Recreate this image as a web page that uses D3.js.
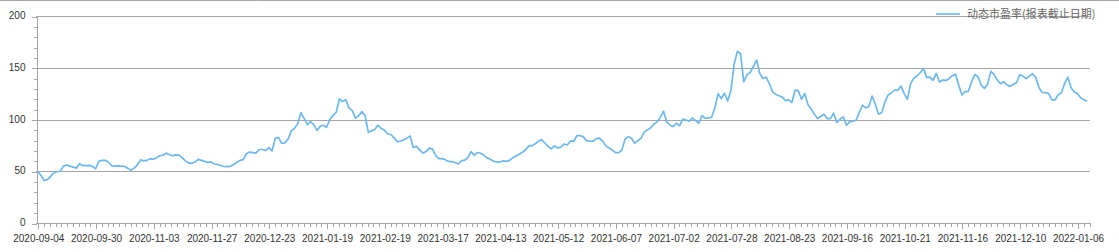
<!DOCTYPE html>
<html>
<head>
<meta charset="utf-8">
<script src="https://cdn.jsdelivr.net/npm/d3@7"></script>
<style>
  body { margin: 0; background: #fff; }
  svg { display: block; font-family: "Liberation Sans", Arial, sans-serif; }
</style>
</head>
<body>
<svg id="chart" width="1119" height="252"></svg>
<script>
// series name shown in the legend
const seriesName = '动态市盈率(报表截止日期)';

// one value per trading day, 2020-09-04 .. 2022-01-11
const peValues = [
  50, 46, 41, 42, 45, 48.5, 49.5, 50, 55, 56,
  55, 54, 53, 57.3, 55.4, 55.5, 55.7, 54.8, 52.2, 59.5,
  60.5, 60.5, 59, 55.4, 55, 55.2, 55, 54.8, 53, 51,
  53, 56, 61, 60, 60.5, 62.2, 61.5, 63, 65, 65.5,
  67.5, 66, 65, 65.8, 65.5, 63, 60, 58, 57.7, 59,
  61.5, 60.5, 59.5, 58.6, 59, 57, 56.5, 55.5, 54.6, 54.4,
  54.8, 56.4, 58.5, 60.5, 61.2, 67, 68.5, 68, 67.5, 71,
  71, 70, 72.8, 69.6, 82, 82.8, 77, 77.5, 81, 89,
  91.5, 96, 106.6, 101, 95, 98, 95, 89.5, 93.5, 94.5,
  92.5, 100, 104, 107, 120, 117.4, 119, 111, 108.5, 101.3,
  103.6, 107.6, 103.6, 87.8, 89, 90.4, 94.4, 91.4, 89.8, 86.2,
  85.5, 82.5, 78.6, 79, 80.3, 82, 84, 73, 74, 70.7,
  67.5, 69, 72.4, 71.4, 65, 62.2, 62.2, 61.2, 59.5, 59.3,
  58.5, 57, 60, 60.8, 63, 69, 65.4, 68.1, 67.4, 65.6,
  63, 61.5, 59.7, 59, 58.9, 60, 59.5, 60.5, 63, 64.8,
  66.5, 68.4, 70.5, 74.5, 74.7, 76.5, 78.9, 80.6, 77.3, 74,
  71.7, 74.5, 72.5, 73.3, 76.3, 75.3, 79.3, 79, 84.5, 84.5,
  83.2, 79.6, 79, 79, 81.6, 82, 79.3, 74.5, 72.5, 70.6,
  68, 68, 70.3, 81, 83.5, 81.9, 77.1, 79.6, 81.9, 88,
  90, 92, 95.5, 97.7, 102, 108, 97.7, 94.5, 93.2, 96.4,
  93.8, 100.3, 99.6, 98.3, 101.6, 99, 96.4, 103.8, 101.2, 101.6,
  102.2, 111.6, 124.8, 120.3, 125.4, 118, 127.7, 153.5, 165.8, 163.5,
  136.4, 143.2, 145.4, 151.2, 157.4, 144.5, 139.6, 140.9, 134.5, 126.7,
  124.2, 122.9, 121.6, 118.3, 119, 116.4, 128.3, 127.7, 119.6, 125.1,
  114.5, 110, 105.1, 100.9, 102.9, 105.1, 100.9, 100.9, 106.1, 97.1,
  100.3, 102.5, 94.5, 97.7, 98.5, 99.3, 106.7, 113.8, 111.2, 112.5,
  122.7, 114.7, 105.1, 106.7, 117, 123.7, 125.6, 128.5, 128.2, 132.3,
  125, 119.5, 134.6, 140, 142, 145.2, 149.3, 140.7, 141, 137.8,
  144.5, 136.2, 138.1, 137.8, 139.4, 142.3, 143.9, 133, 123.7, 126.9,
  127.2, 136.5, 143.6, 141.3, 133.3, 130.1, 134, 146.5, 143.6, 138.1,
  134.6, 136.5, 133.6, 132, 134, 135.5, 143.2, 142, 139.4, 142,
  144.2, 140.7, 130.7, 126.2, 125.9, 125.3, 118.9, 118.9, 124, 125.9,
  134.9, 141, 130.7, 126.6, 125, 121.1, 119, 117.9
];

// x-axis labels and the trading-day index each one sits on
const tickLabels = [
  '2020-09-04', '2020-09-30', '2020-11-03', '2020-11-27', '2020-12-23',
  '2021-01-19', '2021-02-19', '2021-03-17', '2021-04-13', '2021-05-12',
  '2021-06-07', '2021-07-02', '2021-07-28', '2021-08-23', '2021-09-16',
  '2021-10-21', '2021-11-16', '2021-12-10', '2022-01-06'
];
const tickIndex = [0, 18, 36, 54, 72, 90, 108, 126, 144, 162, 180, 198, 216, 234, 252, 270, 288, 306, 324];

const yTicks = [0, 50, 100, 150, 200];

(function () {
  const W = 1119;
  const plot = {left: 36, right: 1090, top: 16, bottom: 223};
  const axisColor = '#a6a6a6';
  const lineColor = '#6cb8ef';

  const svg = d3.select('#chart');

  const x = d3.scaleLinear()
    .domain([-0.56, peValues.length - 1 + 0.9])
    .range([plot.left, plot.right]);
  const y = d3.scaleLinear()
    .domain([0, 200])
    .range([plot.bottom, plot.top]);

  // top border
  svg.append('line')
    .attr('x1', 0).attr('x2', W)
    .attr('y1', 0.5).attr('y2', 0.5)
    .attr('stroke', axisColor);

  // horizontal grid
  svg.append('g')
    .selectAll('line')
    .data(yTicks.filter(d => d > 0))
    .enter().append('line')
      .attr('x1', plot.left).attr('x2', plot.right)
      .attr('y1', d => Math.round(y(d)) + 0.5)
      .attr('y2', d => Math.round(y(d)) + 0.5)
      .attr('stroke', axisColor)
      .attr('shape-rendering', 'crispEdges');

  function styleAxis(g) {
    g.select('.domain').attr('stroke', axisColor);
    g.selectAll('.tick line').attr('stroke', axisColor);
    g.selectAll('.tick text')
      .attr('fill', '#333')
      .style('font-size', '10px')
      .style('font-family', '"Liberation Sans", Arial, sans-serif');
    g.attr('shape-rendering', 'crispEdges');
  }

  // y axis, major + minor ticks
  const yAxis = d3.axisLeft(y)
    .tickValues(yTicks)
    .tickSize(5)
    .tickSizeOuter(0)
    .tickPadding(6);
  svg.append('g')
    .attr('transform', `translate(${plot.left + 0.5},0.5)`)
    .call(yAxis)
    .call(styleAxis)
    .call(g => g.selectAll('.tick text').attr('dy', '0.2em'));

  const yMinor = d3.range(10, 200, 10).filter(d => d % 50 !== 0);
  svg.append('g')
    .attr('transform', `translate(${plot.left + 0.5},0.5)`)
    .call(d3.axisLeft(y).tickValues(yMinor).tickSize(3).tickFormat(''))
    .call(styleAxis)
    .call(g => g.select('.domain').remove());

  // x axis, major + minor ticks
  const xAxis = d3.axisBottom(x)
    .tickValues(tickIndex)
    .tickFormat((d, i) => tickLabels[i])
    .tickSize(5)
    .tickSizeOuter(0)
    .tickPadding(6);
  svg.append('g')
    .attr('transform', `translate(0.5,${plot.bottom + 0.5})`)
    .call(xAxis)
    .call(styleAxis)
    .call(g => g.select('.domain').attr('d', `M${plot.left - 0.5},0H${plot.right}`));

  const step = (tickIndex[1] - tickIndex[0]) / 10;
  const xMinor = [];
  for (let k = 0; x(k * step) <= plot.right; k++) {
    if (k % 10 !== 0) xMinor.push(k * step);
  }
  svg.append('g')
    .attr('transform', `translate(0.5,${plot.bottom + 0.5})`)
    .call(d3.axisBottom(x).tickValues(xMinor).tickSize(3).tickFormat(''))
    .call(styleAxis)
    .call(g => g.select('.domain').remove());

  // the series
  const line = d3.line()
    .x((d, i) => x(i))
    .y(d => y(d));

  svg.append('path')
    .datum(peValues)
    .attr('fill', 'none')
    .attr('stroke', lineColor)
    .attr('stroke-width', 1.7)
    .attr('stroke-linejoin', 'round')
    .attr('d', line);

  // legend
  const legend = svg.append('g').attr('transform', 'translate(936,14)');
  legend.append('line')
    .attr('x1', 0).attr('x2', 24)
    .attr('y1', 0).attr('y2', 0)
    .attr('stroke', lineColor)
    .attr('stroke-width', 1.7);
  legend.append('text')
    .attr('x', 31)
    .attr('y', 4)
    .attr('fill', '#666')
    .style('font-size', '11px')
    .style('font-family', '"Noto Sans CJK SC", sans-serif')
    .text(seriesName);
})();
</script>
</body>
</html>
